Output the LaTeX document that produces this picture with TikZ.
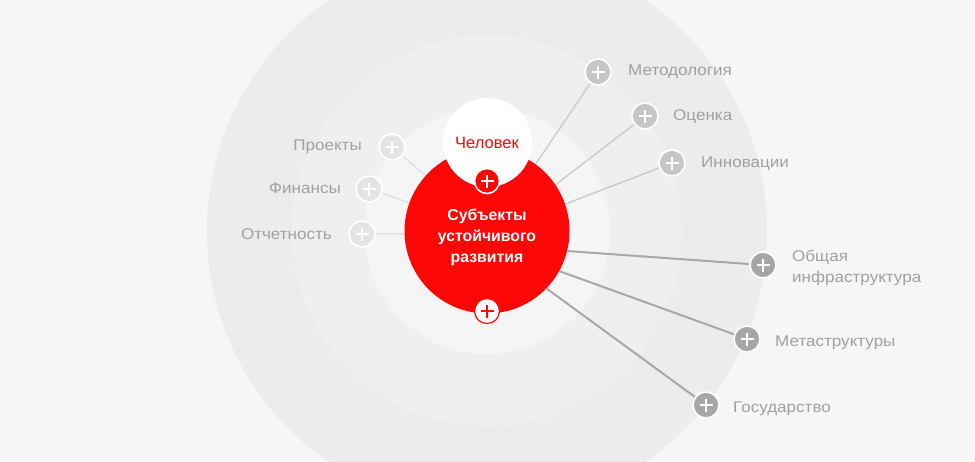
\documentclass[tikz,border=0pt]{standalone}
\usepackage{fontspec}
\setmainfont{Liberation Sans}
\newfontfamily\lblfont[FakeStretch=1.1]{Liberation Sans}
\usetikzlibrary{backgrounds}
\definecolor{bgc}{HTML}{F6F6F6}
\definecolor{ringA}{HTML}{ECECEC}
\definecolor{ringB}{HTML}{EFEFEF}
\definecolor{ringC}{HTML}{F5F5F5}
\definecolor{myred}{HTML}{FF0606}
\definecolor{lbl}{HTML}{A0A0A0}
\definecolor{nodeL}{HTML}{E4E4E4}
\definecolor{nodeM}{HTML}{C6C6C6}
\definecolor{nodeD}{HTML}{A6A6A6}
\definecolor{lineL}{HTML}{E0E0E0}
\definecolor{lineM}{HTML}{CBCBCB}
\definecolor{lineD}{HTML}{A8A8A8}
\pgfdeclarelayer{lines}
\pgfsetlayers{background,lines,main}
\tikzset{
  plusnode/.style={circle, draw=white, line width=1.6pt, minimum size=26pt, inner sep=0pt,
    path picture={\draw[#1, line width=1.8pt]
      ([xshift=-6.5pt]path picture bounding box.center) -- ([xshift=6.5pt]path picture bounding box.center)
      ([yshift=-6.5pt]path picture bounding box.center) -- ([yshift=6.5pt]path picture bounding box.center);}},
  plusnode/.default=white,
  lbltext/.style={text=lbl, font=\lblfont\fontsize{15.5}{19}\selectfont, inner sep=0pt},
  conL/.style={draw=lineL, line width=1.4pt},
  conM/.style={draw=lineM, line width=1.4pt},
  conD/.style={draw=lineD, line width=2pt},
}
\begin{document}
\begin{tikzpicture}[x=1pt,y=-1pt]
\useasboundingbox (0,0) rectangle (975,461);
\begin{pgfonlayer}{background}
\fill[bgc] (0,0) rectangle (975,461);
\begin{scope}
\clip (0,0) rectangle (975,461);
\fill[ringA] (487,231) circle[radius=280];
\fill[ringB] (487,231) circle[radius=195];
\fill[ringC] (487,231) circle[radius=123];
\end{scope}
\end{pgfonlayer}

% central nodes
\node[circle, fill=myred, minimum size=165pt, inner sep=0pt] (sub) at (487,231) {};
\node[circle, fill=white, minimum size=89pt, inner sep=0pt] (man) at (487.5,142.5) {};
\node[text=myred, font=\fontsize{16.5}{19}\selectfont] (mantxt) at (487,143) {Человек};
\node[text=white, font=\bfseries\fontsize{15.8}{21}\selectfont, align=center] (subtxt) at (487,237) {Субъекты\\устойчивого\\развития};
\node[plusnode, fill=myred, minimum size=25pt] (pman) at (487,181) {};
\node[plusnode=myred, fill=white, draw=myred, line width=1.2pt, minimum size=25pt] (psub) at (487,311) {};

% left nodes
\node[plusnode, fill=nodeL] (proj) at (392,147) {};
\node[plusnode, fill=nodeL] (fin) at (369,189) {};
\node[plusnode, fill=nodeL] (otch) at (362,234) {};
% upper right
\node[plusnode, fill=nodeM] (met) at (598,72) {};
\node[plusnode, fill=nodeM] (oc) at (645,116) {};
\node[plusnode, fill=nodeM] (inn) at (672,163) {};
% lower right
\node[plusnode, fill=nodeD] (obs) at (763,265) {};
\node[plusnode, fill=nodeD] (metas) at (747,339) {};
\node[plusnode, fill=nodeD] (gos) at (706,405) {};

% labels
\node[lbltext, anchor=east] (lproj) at (362,147) {Проекты};
\node[lbltext, anchor=east] (lfin) at (341,188) {Финансы};
\node[lbltext, anchor=east] (lotch) at (332,234) {Отчетность};
\node[lbltext, anchor=west] (lmet) at (628,72) {Методология};
\node[lbltext, anchor=west] (loc) at (673,117) {Оценка};
\node[lbltext, anchor=west] (linn) at (701,164) {Инновации};
\node[lbltext, anchor=west, align=left, font=\lblfont\fontsize{15.5}{20.5}\selectfont] (lobs) at (792,268) {Общая\\инфраструктура};
\node[lbltext, anchor=west] (lmetas) at (775,343) {Метаструктуры};
\node[lbltext, anchor=west] (lgos) at (733,409) {Государство};

% connectors
\begin{pgfonlayer}{lines}
\draw[conL] (proj) -- (sub.138);
\draw[conL] (fin) -- (sub.160);
\draw[conL] (otch) -- (sub.182);
\draw[conM] (met) -- (sub.54);
\draw[conM] (oc) -- (sub.34);
\draw[conM] (inn) -- (sub.19.5);
\draw[conD] (obs) -- (sub.-14);
\draw[conD] (metas) -- (sub.-29);
\draw[conD] (gos) -- (sub.-44);
\end{pgfonlayer}
\end{tikzpicture}
\end{document}
